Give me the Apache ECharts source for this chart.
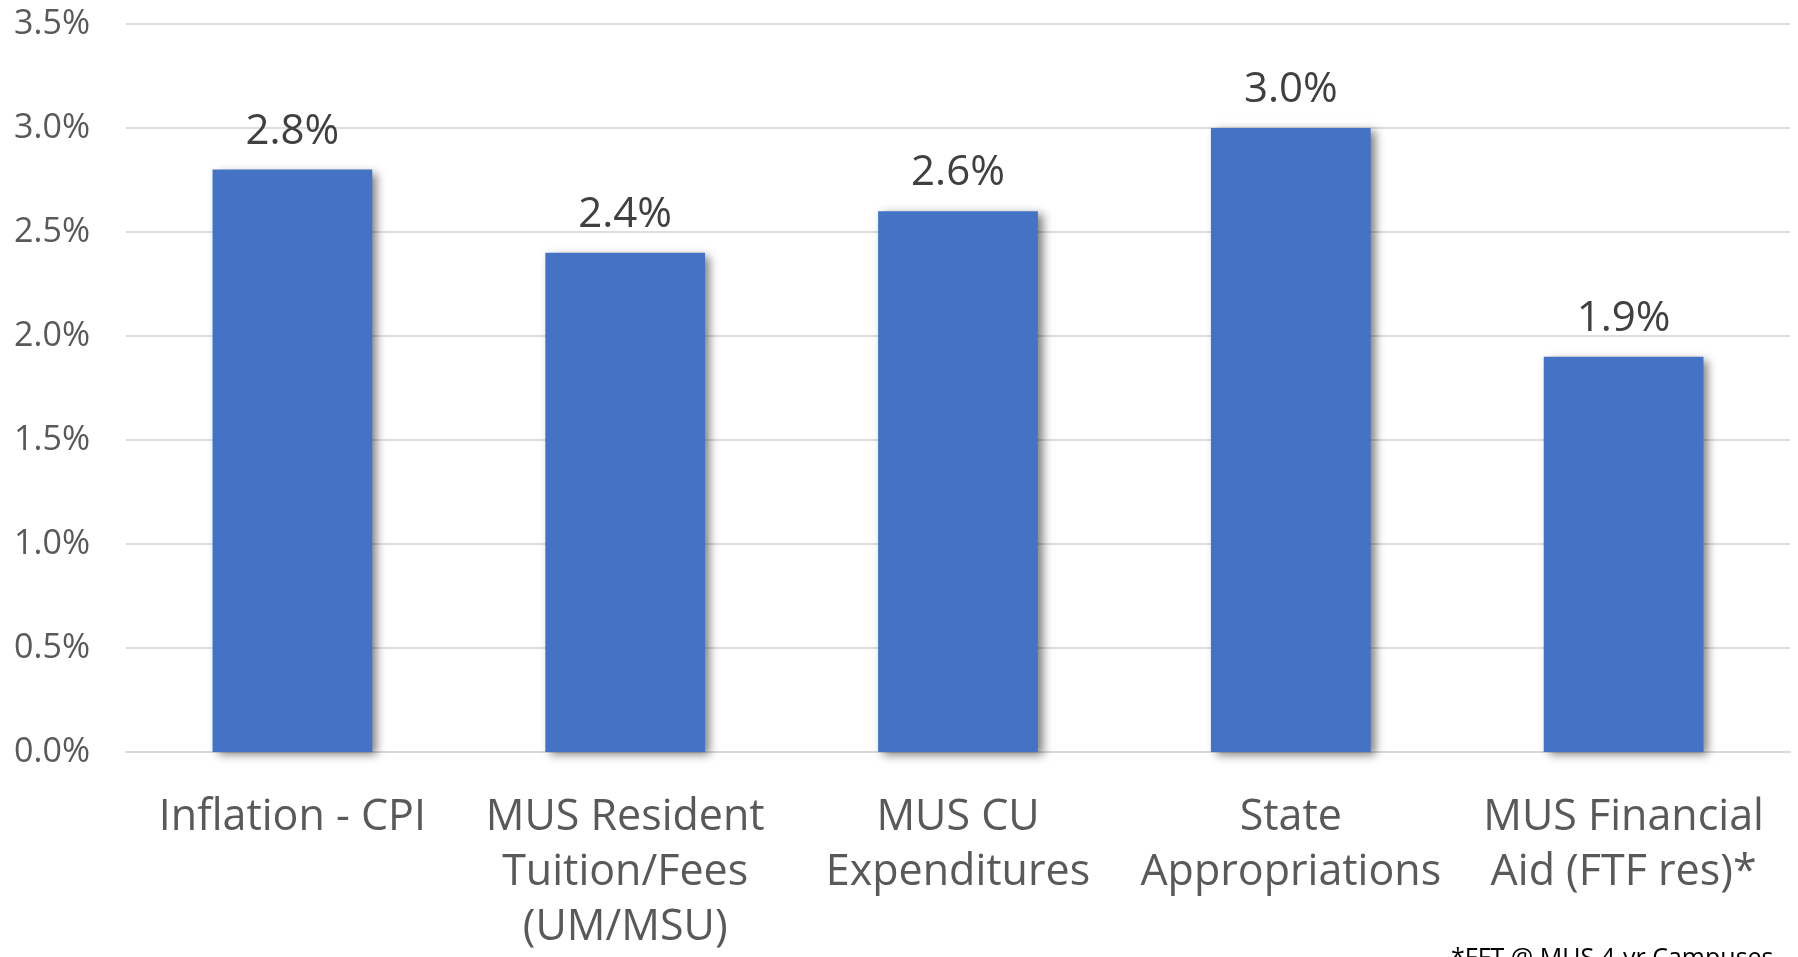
<!DOCTYPE html>
<html lang="en">
  <head>
    <meta charset="UTF-8" />
    <title>MUS growth rates</title>
    <style>
      html, body { margin: 0; padding: 0; background: #fff; }
      #main { width: 1798px; height: 957px; }
    </style>
  </head>
  <body>
    <div id="main"></div>
    <script src="https://cdn.jsdelivr.net/npm/echarts@6/dist/echarts.min.js"></script>
    <script>
      // categories and values
      var categories = [
        "Inflation - CPI",
        "MUS Resident\nTuition/Fees\n(UM/MSU)",
        "MUS CU\nExpenditures",
        "State\nAppropriations",
        "MUS Financial\nAid (FTF res)*"
      ];
      var growth = [2.8, 2.4, 2.6, 3.0, 1.9];
      var footnote = "*FFT @ MUS 4-yr Campuses";

      var font = "'Open Sans', 'Noto Sans', sans-serif";
      var myChart = echarts.init(document.getElementById("main"));

      var option = {
        animation: false,
        title: {
          text: footnote,
          left: 1446,
          top: 941,
          textStyle: { fontFamily: font, fontSize: 25, fontWeight: "normal", color: "#000" }
        },
        grid: { left: 126, right: 8, top: 24, bottom: 205 },
        xAxis: {
          type: "category",
          data: categories,
          axisTick: { show: false },
          axisLine: { lineStyle: { color: "#d9d9d9", width: 2 } },
          axisLabel: {
            margin: 38,
            fontFamily: font,
            fontSize: 43,
            lineHeight: 55,
            color: "#595959",
            interval: 0
          }
        },
        yAxis: {
          type: "value",
          min: 0,
          max: 3.5,
          interval: 0.5,
          axisLine: { show: false },
          axisTick: { show: false },
          splitLine: { lineStyle: { color: "#dedede", width: 2 } },
          axisLabel: {
            margin: 36,
            fontFamily: font,
            fontSize: 34,
            color: "#595959",
            formatter: function (v) { return v.toFixed(1) + "%"; }
          }
        },
        series: [
          {
            type: "bar",
            data: growth,
            barWidth: "48%",
            itemStyle: {
              color: "#4472c4",
              shadowColor: "rgba(0,0,0,0.5)",
              shadowBlur: 9,
              shadowOffsetX: 5,
              shadowOffsetY: 3
            },
            label: {
              show: true,
              position: "top",
              distance: 17,
              fontFamily: font,
              fontSize: 42,
              lineHeight: 42,
              color: "#404040",
              formatter: function (p) { return p.value.toFixed(1) + "%"; }
            }
          }
        ]
      };

      myChart.setOption(option);
    </script>
  </body>
</html>
